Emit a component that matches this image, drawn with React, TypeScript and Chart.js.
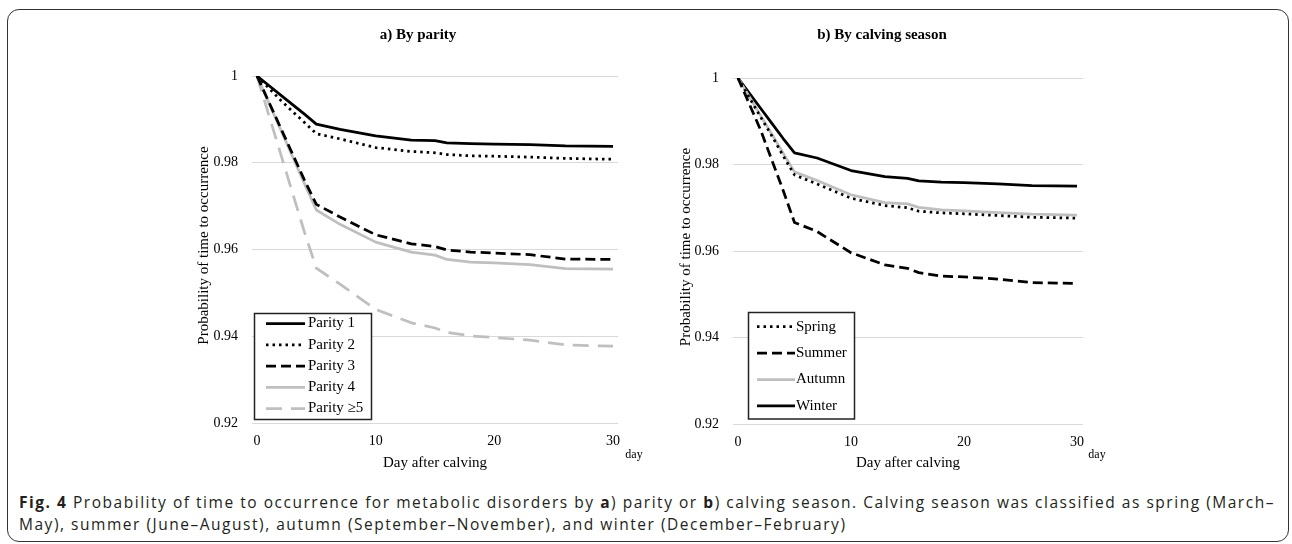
import React, { useEffect, useLayoutEffect, useRef } from "react";
import { Chart, registerables } from "chart.js";

Chart.register(...registerables);

// ---------- data ----------
const days = [0, 1, 2, 3, 4, 5, 7, 10, 13, 15, 16, 18, 20, 23, 26, 30];

const parity1 = [1, 0.9978, 0.9956, 0.9934, 0.9912, 0.9889, 0.9877, 0.9862, 0.9852, 0.9851, 0.9846, 0.9844, 0.9843, 0.9842, 0.9839, 0.9838];
const parity2 = [1, 0.9972, 0.9944, 0.9918, 0.9893, 0.9867, 0.9855, 0.9835, 0.9826, 0.9823, 0.9819, 0.9816, 0.9815, 0.9813, 0.981, 0.9808];
const parity3 = [1, 0.994, 0.988, 0.982, 0.976, 0.9704, 0.9675, 0.9634, 0.9613, 0.9607, 0.9599, 0.9594, 0.9592, 0.9588, 0.9578, 0.9577];
const parity4 = [1, 0.9938, 0.9876, 0.9814, 0.9752, 0.9691, 0.9658, 0.9617, 0.9594, 0.9587, 0.9577, 0.9571, 0.9569, 0.9565, 0.9556, 0.9555];
const parity5 = [1, 0.991, 0.982, 0.973, 0.964, 0.9557, 0.952, 0.9462, 0.9431, 0.9419, 0.9409, 0.9401, 0.9397, 0.9391, 0.938, 0.9377];

const spring = [1, 0.9955, 0.991, 0.9866, 0.982, 0.9776, 0.9755, 0.9722, 0.9705, 0.97, 0.9692, 0.9688, 0.9686, 0.9682, 0.9678, 0.9676];
const summer = [1, 0.994, 0.988, 0.981, 0.974, 0.9666, 0.9645, 0.9596, 0.9568, 0.956, 0.955, 0.9542, 0.954, 0.9535, 0.9527, 0.9525];
const autumn = [1, 0.9957, 0.9913, 0.987, 0.9826, 0.9783, 0.9763, 0.973, 0.9712, 0.9709, 0.9701, 0.9695, 0.9693, 0.9689, 0.9685, 0.9683];
const winter = [1, 0.9965, 0.993, 0.9895, 0.986, 0.9827, 0.9815, 0.9786, 0.9772, 0.9768, 0.9762, 0.9759, 0.9758, 0.9755, 0.9751, 0.975];

const xTicks = [0, 10, 20, 30];
const yTicks = [0.92, 0.94, 0.96, 0.98, 1];
const yTickLabels = ["0.92", "0.94", "0.96", "0.98", "1"];

const parityLabels = ["Parity 1", "Parity 2", "Parity 3", "Parity 4", "Parity \u22655"];
const seasonLabels = ["Spring", "Summer", "Autumn", "Winter"];

const panelTitles = ["a) By parity", "b) By calving season"];
const yAxisTitle = "Probability of time to occurrence";
const xAxisTitle = "Day after calving";
const xUnit = "day";

// ---------- styles ----------
const BLACK = "#000000";
const GRAY = "#bfbfbf";
const SERIF = '"Liberation Serif", "Times New Roman", serif';

type Style = { color: string; dash: number[]; width: number };
const SOLID_BLACK: Style = { color: BLACK, dash: [], width: 2.75 };
const DOT_BLACK: Style = { color: BLACK, dash: [2.5, 4], width: 2.75 };
const DASH_BLACK: Style = { color: BLACK, dash: [10, 5], width: 2.75 };
const SOLID_GRAY: Style = { color: GRAY, dash: [], width: 2.75 };
const LDASH_GRAY: Style = { color: GRAY, dash: [16, 9], width: 2.75 };

type Panel = {
  left: number;
  top: number;
  width: number;
  height: number;
  areaLeft: number;
  areaTop: number;
  areaRight: number;
  areaBottom: number;
  xMin: number;
  xMax: number;
  title: string;
  titleX: number;
  titleY: number;
  yTitleX: number;
  xTitleX: number;
  dayX: number;
  legend: { x: number; y: number; w: number; h: number; firstY: number; step: number; sx0: number; sx1: number; tx: number };
  series: { label: string; data: number[]; style: Style }[];
  legendOrder: number[];
};

const panels: Panel[] = [
  {
    left: 190, top: 20, width: 460, height: 460,
    areaLeft: 62, areaTop: 56, areaRight: 428, areaBottom: 403,
    xMin: -0.42, xMax: 30.42,
    title: panelTitles[0], titleX: 228, titleY: 15,
    yTitleX: 14, xTitleX: 245, dayX: 444,
    legend: { x: 64.5, y: 293.5, w: 117, h: 106, firstY: 303.5, step: 21.25, sx0: 76, sx1: 115, tx: 118 },
    series: [
      { label: parityLabels[0], data: parity1, style: SOLID_BLACK },
      { label: parityLabels[1], data: parity2, style: DOT_BLACK },
      { label: parityLabels[2], data: parity3, style: DASH_BLACK },
      { label: parityLabels[3], data: parity4, style: SOLID_GRAY },
      { label: parityLabels[4], data: parity5, style: LDASH_GRAY },
    ],
    legendOrder: [0, 1, 2, 3, 4],
  },
  {
    left: 670, top: 20, width: 460, height: 460,
    areaLeft: 63, areaTop: 58, areaRight: 413, areaBottom: 404,
    xMin: -0.44, xMax: 30.53,
    title: panelTitles[1], titleX: 212, titleY: 15,
    yTitleX: 16, xTitleX: 238, dayX: 427,
    legend: { x: 78.5, y: 292.5, w: 106, h: 106.5, firstY: 306.7, step: 26.4, sx0: 87, sx1: 125, tx: 126 },
    series: [
      { label: seasonLabels[0], data: spring, style: DOT_BLACK },
      { label: seasonLabels[1], data: summer, style: DASH_BLACK },
      { label: seasonLabels[2], data: autumn, style: SOLID_GRAY },
      { label: seasonLabels[3], data: winter, style: SOLID_BLACK },
    ],
    legendOrder: [0, 1, 2, 3],
  },
];

function makeDecorPlugin(p: Panel) {
  return {
    id: "decor",
    afterDraw(chart: any) {
      const ctx: CanvasRenderingContext2D = chart.ctx;
      const area = chart.chartArea;
      ctx.save();
      ctx.fillStyle = "#000";
      ctx.font = `bold 15px ${SERIF}`;
      ctx.textAlign = "center";
      ctx.textBaseline = "middle";
      ctx.fillText(p.title, p.titleX, p.titleY);
      ctx.font = `15px ${SERIF}`;
      ctx.fillText(xAxisTitle, p.xTitleX, p.height - 17);
      ctx.font = `12px ${SERIF}`;
      ctx.fillText(xUnit, p.dayX, p.height - 25);
      ctx.save();
      ctx.translate(p.yTitleX, (area.top + area.bottom) / 2 - 4);
      ctx.rotate(-Math.PI / 2);
      ctx.font = `15px ${SERIF}`;
      ctx.fillText(yAxisTitle, 0, 0);
      ctx.restore();
      const L = p.legend;
      ctx.fillStyle = "#ffffff";
      ctx.fillRect(L.x, L.y, L.w, L.h);
      ctx.strokeStyle = "#222";
      ctx.lineWidth = 1.5;
      ctx.strokeRect(L.x, L.y, L.w, L.h);
      p.legendOrder.forEach((si, i) => {
        const s = p.series[si];
        const y = L.firstY + i * L.step;
        ctx.beginPath();
        ctx.setLineDash(s.style.dash);
        ctx.lineDashOffset = 0;
        ctx.strokeStyle = s.style.color;
        ctx.lineWidth = s.style.width;
        ctx.lineCap = "butt";
        ctx.moveTo(L.sx0, y);
        ctx.lineTo(L.sx1, y);
        ctx.stroke();
        ctx.setLineDash([]);
        ctx.fillStyle = "#000";
        ctx.font = `15px ${SERIF}`;
        ctx.textAlign = "left";
        ctx.textBaseline = "middle";
        ctx.fillText(s.label, L.tx, y);
      });
      ctx.restore();
    },
  };
}

function PanelChart({ p }: { p: Panel }) {
  const ref = useRef<HTMLCanvasElement | null>(null);
  useEffect(() => {
    if (!ref.current) return;
    const chart = new Chart(ref.current, {
      type: "line",
      data: {
        datasets: p.series.map((s) => ({
          label: s.label,
          data: days.map((d, i) => ({ x: d, y: s.data[i] })),
          borderColor: s.style.color,
          borderDash: s.style.dash,
          borderWidth: s.style.width,
          borderCapStyle: "butt",
          borderJoinStyle: "round",
          pointRadius: 0,
          tension: 0,
          fill: false,
        })),
      },
      options: {
        animation: false,
        responsive: false,
        maintainAspectRatio: false,
        devicePixelRatio: 1,
        layout: {
          padding: { top: p.areaTop, right: p.width - p.areaRight, left: 0, bottom: 0 },
        },
        plugins: {
          legend: { display: false },
          tooltip: { enabled: false },
          title: { display: false },
        },
        scales: {
          x: {
            type: "linear",
            min: p.xMin,
            max: p.xMax,
            grid: { display: false, drawTicks: false },
            border: { display: false },
            afterBuildTicks: (s: any) => {
              s.ticks = xTicks.map((v) => ({ value: v }));
            },
            ticks: {
              font: { family: SERIF, size: 14 },
              color: "#000",
              padding: 10,
              maxRotation: 0,
              autoSkip: false,
              callback: (v: any) => String(v),
            },
            afterFit: (s: any) => {
              s.height = p.height - p.areaBottom;
            },
          },
          y: {
            type: "linear",
            min: yTicks[0],
            max: yTicks[yTicks.length - 1],
            grid: { color: "#d9d9d9", lineWidth: 1, drawTicks: false },
            border: { display: false },
            afterBuildTicks: (s: any) => {
              s.ticks = yTicks.map((v) => ({ value: v }));
            },
            ticks: {
              font: { family: SERIF, size: 14 },
              color: "#000",
              padding: 14,
              autoSkip: false,
              callback: (v: any) => {
                const idx = yTicks.findIndex((t) => Math.abs(t - v) < 1e-9);
                return idx >= 0 ? yTickLabels[idx] : "";
              },
            },
            afterFit: (s: any) => {
              s.width = p.areaLeft;
            },
          },
        },
      } as any,
      plugins: [makeDecorPlugin(p)],
    });
    return () => chart.destroy();
  }, [p]);
  return (
    <canvas
      ref={ref}
      width={p.width}
      height={p.height}
      style={{ position: "absolute", left: p.left, top: p.top, width: p.width, height: p.height }}
    />
  );
}

const captionLine1Rest = " Probability of time to occurrence for metabolic disorders by ";
const captionLine2 =
  "May), summer (June\u2013August), autumn (September\u2013November), and winter (December\u2013February)";
const CAPTION_LEFT = 19;
const CAPTION_LINE1_RIGHT = 1275;

export default function App() {
  const capFont = '"Open Sans", "Noto Sans", sans-serif';
  const capRef = useRef<HTMLDivElement | null>(null);
  const line1Ref = useRef<HTMLSpanElement | null>(null);

  useLayoutEffect(() => {
    const cap = capRef.current;
    const l1 = line1Ref.current;
    if (!cap || !l1) return;
    cap.style.letterSpacing = "0px";
    const w = l1.getBoundingClientRect().width;
    const n = (l1.textContent || "").length;
    const target = CAPTION_LINE1_RIGHT - CAPTION_LEFT;
    if (n > 0) cap.style.letterSpacing = `${(target - w) / n}px`;
  }, []);

  return (
    <div style={{ position: "absolute", left: 0, top: 0, width: 1292, height: 544, background: "#fff", overflow: "hidden" }}>
      <div
        style={{
          position: "absolute",
          left: 7,
          top: 9,
          width: 1282,
          height: 533,
          border: "1.5px solid #333",
          borderRadius: 12,
          boxSizing: "border-box",
        }}
      />
      {panels.map((p, i) => (
        <PanelChart key={i} p={p} />
      ))}
      <div
        ref={capRef}
        style={{
          position: "absolute",
          left: CAPTION_LEFT,
          top: 491,
          fontFamily: capFont,
          fontSize: 15.5,
          lineHeight: "22px",
          color: "#231f20",
          whiteSpace: "nowrap",
        }}
      >
        <div>
          <span ref={line1Ref}>
            <b>Fig. 4</b>
            {captionLine1Rest}
            <b>a</b>) parity or <b>b</b>) calving season. Calving season was classified as spring (March–
          </span>
        </div>
        <div>{captionLine2}</div>
      </div>
    </div>
  );
}
